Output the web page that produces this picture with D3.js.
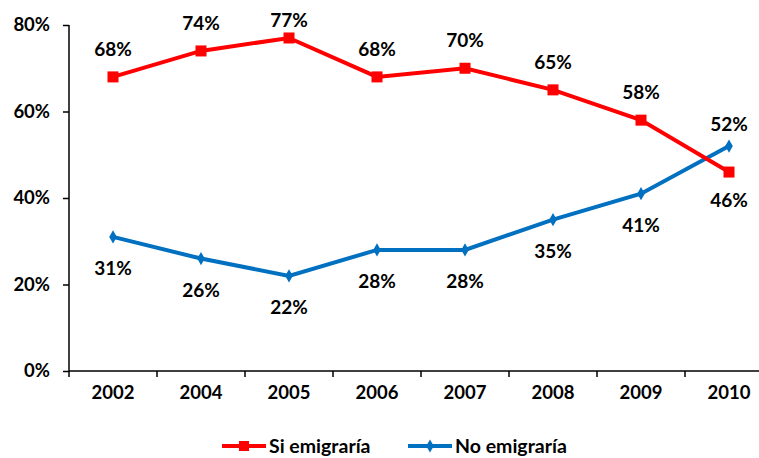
<!DOCTYPE html>
<html lang="es">
<head>
<meta charset="UTF-8">
<title>Emigraría</title>
<script src="https://cdn.jsdelivr.net/npm/d3@7"></script>
<style>
    body { margin: 0; background: #fff; }
    svg { display: block; font-family: Lato, "Open Sans", sans-serif; font-weight: bold; }
</style>
</head>
<body>
<div id="chart"></div>
<script>
// data
var years = ["2002", "2004", "2005", "2006", "2007", "2008", "2009", "2010"]
var siEmigraria = [68, 74, 77, 68, 70, 65, 58, 46]
var noEmigraria = [31, 26, 22, 28, 28, 35, 41, 52]
var yTicks = [0, 20, 40, 60, 80]

var width = 759, height = 458
var svg = d3.select("#chart").append("svg").attr("width", width).attr("height", height)

// scales
var x = d3.scaleBand().domain(years).range([69, 69 + 88 * years.length])
var y = d3.scaleLinear().domain([0, 80]).range([371, 25])

// y axis
var yAxis = svg.append("g").attr("transform", "translate(69,0)")
    .call(d3.axisLeft(y).tickValues(yTicks).tickFormat(d => d + "%").tickSize(6).tickPadding(13))
yAxis.select(".domain").attr("stroke", "#000").attr("stroke-width", 1.5).attr("d", "M0," + y(0) + "V" + y(80))
yAxis.selectAll(".tick line").attr("stroke-width", 1.5)
yAxis.selectAll("text").attr("font-size", 18.5).attr("font-weight", "bold").attr("font-family", "Lato, sans-serif").attr("fill", "#000")

// x axis
var xAxis = svg.append("g").attr("transform", "translate(0," + y(0) + ")")
    .call(d3.axisBottom(x).tickSize(0).tickPadding(15))
xAxis.select(".domain").attr("stroke-width", 1.5).attr("d", "M69,0H" + width)
xAxis.selectAll("text").attr("font-size", 18.5).attr("font-weight", "bold").attr("font-family", "Lato, sans-serif").attr("fill", "#000")
// band boundary ticks
svg.append("g").selectAll("line").data(years).enter().append("line")
    .attr("x1", d => x(d)).attr("x2", d => x(d))
    .attr("y1", y(0)).attr("y2", y(0) + 6)
    .attr("stroke", "#000").attr("stroke-width", 1.5)

var cx = d => x(d) + x.bandwidth() / 2
var line = d3.line().x(d => cx(d.year)).y(d => y(d.v))

var siData = years.map((yr, i) => ({ year: yr, v: siEmigraria[i] }))
var noData = years.map((yr, i) => ({ year: yr, v: noEmigraria[i] }))

// No emigraría (blue)
svg.append("path").datum(noData).attr("d", line)
    .attr("fill", "none").attr("stroke", "#0070C0").attr("stroke-width", 4)
svg.append("g").selectAll("path").data(noData).enter().append("path")
    .attr("d", d3.symbol(d3.symbolDiamond, 50))
    .attr("transform", d => "translate(" + cx(d.year) + "," + y(d.v) + ")")
    .attr("fill", "#0070C0")

// Si emigraría (red)
svg.append("path").datum(siData).attr("d", line)
    .attr("fill", "none").attr("stroke", "#FF0000").attr("stroke-width", 4)
svg.append("g").selectAll("rect").data(siData).enter().append("rect")
    .attr("x", d => cx(d.year) - 5.5).attr("y", d => y(d.v) - 5.5)
    .attr("width", 11).attr("height", 11).attr("fill", "#FF0000")

// labels
svg.append("g").selectAll("text").data(siData).enter().append("text")
    .attr("x", d => cx(d.year))
    .attr("y", (d, i) => i === years.length - 1 ? y(d.v) + 35 : Math.max(y(d.v) - 21, 27))
    .attr("text-anchor", "middle").attr("font-size", 19).attr("fill", "#000")
    .text(d => d.v + "%")
svg.append("g").selectAll("text").data(noData).enter().append("text")
    .attr("x", d => cx(d.year))
    .attr("y", (d, i) => i === years.length - 1 ? y(d.v) - 15 : y(d.v) + 38)
    .attr("text-anchor", "middle").attr("font-size", 19).attr("fill", "#000")
    .text(d => d.v + "%")

// legend
var legend = [
    { name: "Si emigraría", color: "#FF0000", x: 222, marker: "square" },
    { name: "No emigraría", color: "#0070C0", x: 408, marker: "diamond" }
]
var lg = svg.append("g").selectAll("g").data(legend).enter().append("g")
    .attr("transform", d => "translate(" + d.x + ",446)")
lg.append("line").attr("x1", 0).attr("x2", 44).attr("stroke", d => d.color).attr("stroke-width", 4)
lg.append("path")
    .attr("d", d => d.marker === "square" ? d3.symbol(d3.symbolSquare, 100)() : d3.symbol(d3.symbolDiamond, 50)())
    .attr("transform", "translate(22,0)").attr("fill", d => d.color)
lg.append("text").attr("x", 47).attr("y", 7).attr("font-size", 19.5).attr("fill", "#000").text(d => d.name)
</script>
</body>
</html>
